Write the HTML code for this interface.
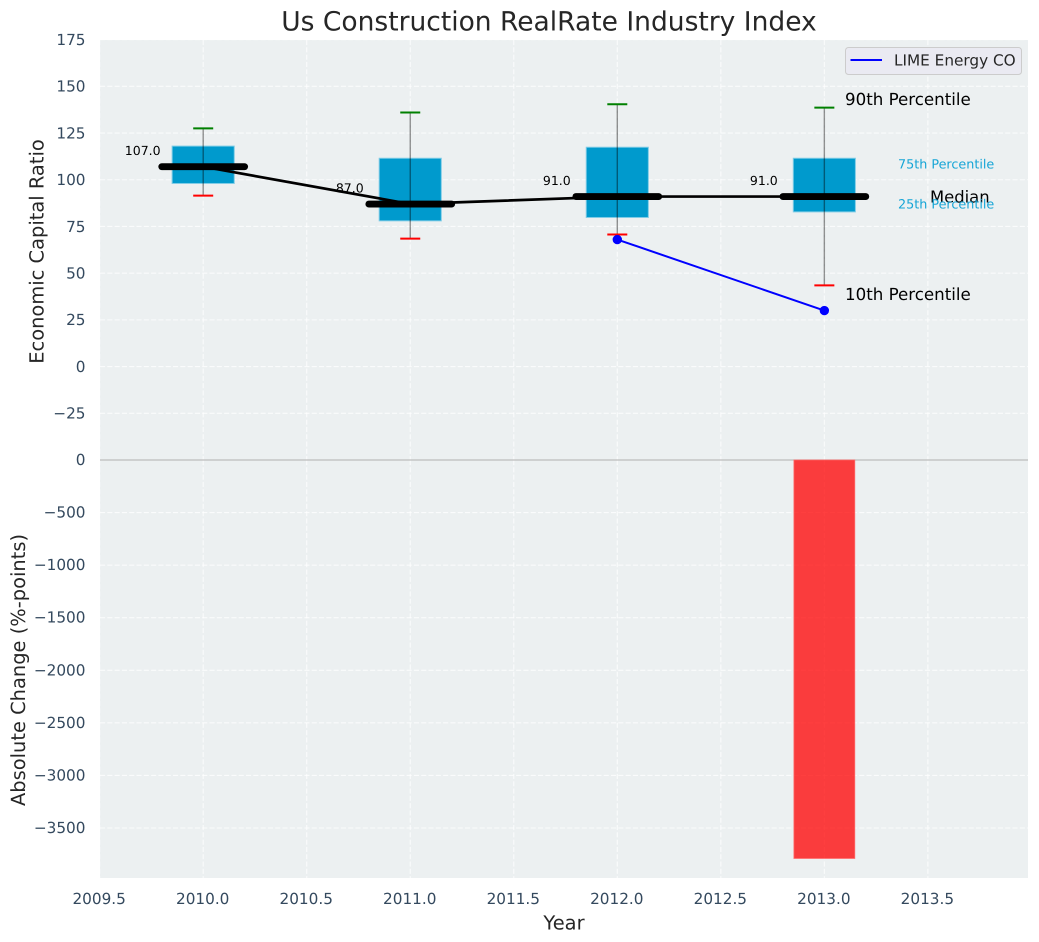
<!DOCTYPE html>
<html lang="en">
<head>
<meta charset="utf-8">
<title>Us Construction RealRate Industry Index</title>
<style>
html,body{margin:0;padding:0;background:#fff;}
svg{display:block;font-family:"DejaVu Sans","Liberation Sans",sans-serif;text-rendering:geometricPrecision;}
</style>
</head>
<body>
<svg id="chart" xmlns="http://www.w3.org/2000/svg" width="1039" height="942" viewBox="0 0 1039 942"></svg>
<script>
const years = [2010, 2011, 2012, 2013];
const p90 = [127.5, 136, 140.4, 138.6];
const p75 = [118, 111.5, 117.4, 111.5];
const medians = [107, 87, 91, 91];
const p25 = [98, 78, 79.8, 82.8];
const p10 = [91.5, 68.5, 70.7, 43.5];
const limeYears = [2012, 2013];
const limeValues = [68, 30];
const changeYears = [2013];
const changeValues = [-3790];
const xTicks = [2009.5, 2010, 2010.5, 2011, 2011.5, 2012, 2012.5, 2013, 2013.5];
const topTicks = [175, 150, 125, 100, 75, 50, 25, 0, -25];
const bottomTicks = [0, -500, -1000, -1500, -2000, -2500, -3000, -3500];

const svg = document.getElementById('chart');
const NS = 'http://www.w3.org/2000/svg';
const L = 100, R = 1028, T1 = 40, B1 = 460, T2 = 460, B2 = 878;
const x = v => 203.2 + (v - 2010) * 207.05;
const yTop = v => 366.6 - v * 1.8686;
const yBottom = v => 460 - v * 0.10514;

function make(tag, attrs, text) {
  const e = document.createElementNS(NS, tag);
  for (const k in attrs) e.setAttribute(k, attrs[k]);
  if (text !== undefined) e.textContent = text;
  svg.appendChild(e);
  return e;
}
function label(v) { return String(v).replace('-', '\u2212'); }
function fmtYear(v) { return v.toFixed(1); }

let e;
e = make('rect', {x: L, y: T1, width: R - L, height: B1 - T1, fill: '#ecf0f1'});


e = make('rect', {x: L, y: T2, width: R - L, height: B2 - T2, fill: '#ecf0f1'});



const gridStyle = {stroke: '#ffffff', 'stroke-width': 1.1, 'stroke-opacity': 0.75, 'stroke-dasharray': '5.1 2.2'};
xTicks.forEach(t => {
  let g = make('line', Object.assign({x1: x(t), x2: x(t), y1: T1, y2: B1}, gridStyle));
  
  
  g = make('line', Object.assign({x1: x(t), x2: x(t), y1: T2, y2: B2}, gridStyle));
  
  
  const tl = make('text', {x: x(t) - 0.5, y: 899, 'text-anchor': 'middle', 'dominant-baseline': 'central', 'font-size': 15.28, fill: '#34495e'}, fmtYear(t));
  
  
});
topTicks.forEach(t => {
  const g = make('line', Object.assign({x1: L, x2: R, y1: yTop(t), y2: yTop(t)}, gridStyle));
  
  
  const tl = make('text', {x: 85.5, y: yTop(t) + 0.3, 'text-anchor': 'end', 'dominant-baseline': 'central', 'font-size': 15.28, fill: '#34495e'}, label(t));
  
  
});
bottomTicks.forEach(t => {
  const tl = make('text', {x: 85.5, y: yBottom(t), 'text-anchor': 'end', 'dominant-baseline': 'central', 'font-size': 15.28, fill: '#34495e'}, label(t));
  
  
  if (t === 0) return;
  const g = make('line', Object.assign({x1: L, x2: R, y1: yBottom(t), y2: yBottom(t)}, gridStyle));
  
  
});

e = make('line', {x1: L, x2: R, y1: 460, y2: 460, stroke: '#bcbcbc', 'stroke-width': 1.2});



years.forEach((yr, i) => {
  const hw = 0.15 * 207.05;
  const b = make('rect', {x: x(yr) - hw, y: yTop(p75[i]), width: hw * 2, height: yTop(p25[i]) - yTop(p75[i]), fill: '#009acd', stroke: '#7fcce6', 'stroke-width': 1});
  
  
});

const medianPts = years.map((yr, i) => x(yr) + ',' + yTop(medians[i])).join(' ');
e = make('polyline', {points: medianPts, fill: 'none', stroke: '#000', 'stroke-width': 2.7});



years.forEach((yr, i) => {
  const m = make('line', {x1: x(yr) - 41.4, x2: x(yr) + 41.4, y1: yTop(medians[i]), y2: yTop(medians[i]), stroke: '#000', 'stroke-width': 6.9, 'stroke-linecap': 'round'});
  
  
  const w = make('line', {x1: x(yr), x2: x(yr), y1: yTop(p90[i]), y2: yTop(p10[i]), stroke: '#000', 'stroke-opacity': 0.42, 'stroke-width': 1.4});
  
  
  const hi = make('line', {x1: x(yr) - 10, x2: x(yr) + 10, y1: yTop(p90[i]), y2: yTop(p90[i]), stroke: '#008000', 'stroke-width': 2});
  
  
  const lo = make('line', {x1: x(yr) - 10, x2: x(yr) + 10, y1: yTop(p10[i]), y2: yTop(p10[i]), stroke: '#ff0000', 'stroke-width': 2});
  
  
  const t = make('text', {x: x(yr) - 60.5, y: yTop(medians[i]) - 16, 'text-anchor': 'middle', 'dominant-baseline': 'central', 'font-size': 12.5, fill: '#000'}, medians[i].toFixed(1));
  
  
});

const limePts = limeYears.map((yr, i) => x(yr) + ',' + yTop(limeValues[i])).join(' ');
e = make('polyline', {points: limePts, fill: 'none', stroke: '#0000ff', 'stroke-width': 2});


limeYears.forEach((yr, i) => {
  const c = make('circle', {cx: x(yr), cy: yTop(limeValues[i]), r: 4.7, fill: '#0000ff'});
  
  
});

changeYears.forEach((yr, i) => {
  const hw = 0.147 * 207.05;
  const b = make('rect', {x: x(yr) - hw, y: yBottom(0), width: hw * 2, height: yBottom(changeValues[i]) - yBottom(0), fill: '#ff0000', 'fill-opacity': 0.75, stroke: '#ff6a6a', 'stroke-width': 0.8});
  
  
});

e = make('text', {x: 845, y: 99.5, 'dominant-baseline': 'central', 'font-size': 16.67, fill: '#000'}, '90th Percentile');


e = make('text', {x: 845, y: 294.5, 'dominant-baseline': 'central', 'font-size': 16.67, fill: '#000'}, '10th Percentile');


e = make('text', {x: 930, y: 197, 'dominant-baseline': 'central', 'font-size': 16.4, fill: '#000'}, 'Median');


e = make('text', {x: 898, y: 165, 'dominant-baseline': 'central', 'font-size': 12.75, fill: '#16a5d6'}, '75th Percentile');


e = make('text', {x: 898, y: 205, 'dominant-baseline': 'central', 'font-size': 12.75, fill: '#16a5d6'}, '25th Percentile');



e = make('rect', {x: 845.5, y: 47.5, width: 176, height: 27, rx: 3, fill: '#eaeaf2', stroke: '#cccccc', 'stroke-width': 1});


e = make('line', {x1: 850.5, x2: 882, y1: 60, y2: 60, stroke: '#0000ff', 'stroke-width': 2});


e = make('text', {x: 894, y: 60.5, 'dominant-baseline': 'central', 'font-size': 15.28, fill: '#262626'}, 'LIME Energy CO');



e = make('text', {x: 549, y: 22, 'text-anchor': 'middle', 'dominant-baseline': 'central', 'font-size': 26.5, fill: '#262626'}, 'Us Construction RealRate Industry Index');


e = make('text', {x: 564, y: 923, 'text-anchor': 'middle', 'dominant-baseline': 'central', 'font-size': 19.44, fill: '#262626'}, 'Year');


e = make('text', {x: 0, y: 0, transform: 'translate(37 251.5) rotate(-90)', 'text-anchor': 'middle', 'dominant-baseline': 'central', 'font-size': 19.44, fill: '#262626'}, 'Economic Capital Ratio');


e = make('text', {x: 0, y: 0, transform: 'translate(18.5 670) rotate(-90)', 'text-anchor': 'middle', 'dominant-baseline': 'central', 'font-size': 19.44, fill: '#262626'}, 'Absolute Change (%-points)');


</script>
</body>
</html>
